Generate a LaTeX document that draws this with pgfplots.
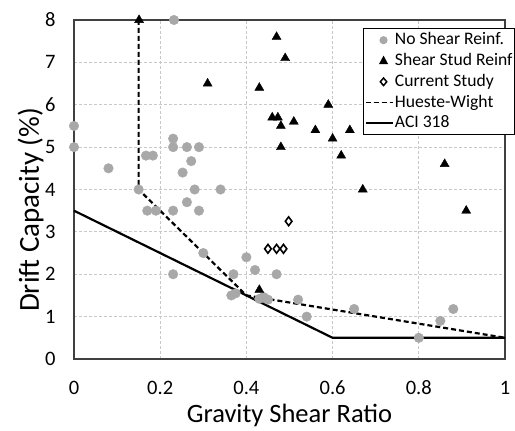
\documentclass[border=0pt]{standalone}
\usepackage{fontspec}
\setmainfont{Carlito}
\usepackage{pgfplots}
\pgfplotsset{compat=1.18}
\definecolor{nsgray}{RGB}{168,168,168}
\definecolor{gridgray}{RGB}{200,200,200}
\definecolor{framegray}{RGB}{64,64,64}

\begin{document}
\begin{tikzpicture}
\begin{axis}[
  name=main,
  width=431pt, height=339pt, scale only axis,
  xmin=0, xmax=1, ymin=0, ymax=8,
  xtick={0,0.2,0.4,0.6,0.8,1},
  xticklabels={0,0.2,0.4,0.6,0.8,1},
  ytick={0,1,2,3,4,5,6,7,8},
  grid=major,
  major grid style={gridgray, dash pattern=on 3pt off 2pt, line width=0.9pt},
  axis line style={framegray, line width=1.6pt},
  tick style={draw=none},
  /pgf/number format/assume math mode=true,
  tick label style={font=\fontsize{20.5}{21}\selectfont},
  xticklabel style={anchor=base, yshift=-36pt},
  yticklabel style={anchor=east, xshift=-15pt},
  xlabel={Gravity Shear Ratio},
  ylabel={Drift Capacity (\%)},
  every axis x label/.style={at={(rel axis cs:0.5,0)}, anchor=base, yshift=-64pt,
    font=\fontsize{26.5}{27}\selectfont},
  every axis y label/.style={at={(rel axis cs:-0.0626,0.44)}, rotate=90, anchor=south,
    font=\fontsize{29}{29}\selectfont},
  clip=false,
  legend cell align=left,
  legend style={at={(rel axis cs:0.6705,0.976)}, anchor=north west,
    draw=black, line width=1.3pt, fill=white,
    inner xsep=1pt, inner ysep=1pt, row sep=0pt,
    font=\fontsize{17.6}{17.6}\selectfont,
    nodes={inner xsep=1.5pt, inner ysep=1.4pt, text height=13.5pt, text depth=4.5pt}},
]
\addplot[only marks, mark=*, mark size=4.8pt, color=nsgray, mark options={draw=nsgray, fill=nsgray},
  legend image code/.code={\path (0pt,0pt) (27pt,0pt); \fill[nsgray] (18pt,0pt) circle (3.4pt);}]
  coordinates {
  (0,5.5) (0,5.0) (0.08,4.5) (0.232,8.0) (0.15,4.0) (0.167,4.8) (0.183,4.8)
  (0.23,5.2) (0.23,5.0) (0.262,5.0) (0.29,5.0) (0.272,4.67) (0.252,4.4)
  (0.28,4.0) (0.34,4.0) (0.17,3.5) (0.19,3.5) (0.23,3.5) (0.262,3.7) (0.29,3.5)
  (0.30,2.5) (0.23,2.0) (0.37,2.0) (0.40,2.4) (0.42,2.1) (0.47,2.0)
  (0.365,1.5) (0.375,1.55) (0.43,1.42) (0.45,1.4) (0.44,1.46) (0.52,1.4)
  (0.54,1.0) (0.65,1.18) (0.80,0.5) (0.85,0.9) (0.88,1.18)
  };
\addlegendentry{No Shear Reinf.}
\addplot[only marks, mark=triangle*, mark size=5.2pt, color=black,
  legend image code/.code={\path (0pt,0pt) (27pt,0pt); \fill[black] (18pt,4pt) -- (14.5pt,-2.5pt) -- (21.5pt,-2.5pt) -- cycle;}]
  coordinates {
  (0.151,8.0) (0.47,7.6) (0.49,7.1) (0.31,6.5) (0.43,6.4) (0.59,6.0)
  (0.46,5.7) (0.473,5.7) (0.51,5.6) (0.48,5.5) (0.56,5.4) (0.60,5.2)
  (0.64,5.4) (0.48,5.0) (0.62,4.8) (0.86,4.6) (0.67,4.0) (0.91,3.5) (0.43,1.63)
  };
\addlegendentry{Shear Stud Reinf}
\addplot[only marks, mark=diamond, mark size=4.4pt, color=black, mark options={line width=1.6pt, fill=white},
  legend image code/.code={\path (0pt,0pt) (27pt,0pt); \draw[black, line width=1.5pt, fill=white] (18pt,3.8pt) -- (14.8pt,0pt) -- (18pt,-3.8pt) -- (21.2pt,0pt) -- cycle;}]
  coordinates {(0.45,2.6) (0.47,2.6) (0.486,2.6) (0.498,3.25)};
\addlegendentry{Current Study}
\addplot[black, line width=2.2pt, dash pattern=on 5pt off 3pt, mark=none,
  legend image code/.code={\draw[black, line width=1.8pt, dash pattern=on 5pt off 3pt] (0pt,0pt) -- (27pt,0pt);}]
  coordinates {(0.15,8) (0.15,4) (0.4,1.5) (1,0.5)};
\addlegendentry{Hueste-Wight}
\addplot[black, line width=2.2pt, mark=none,
  legend image code/.code={\draw[black, line width=1.8pt] (0pt,0pt) -- (27pt,0pt);}]
  coordinates {(0,3.5) (0.6,0.5) (1,0.5)};
\addlegendentry{ACI 318}
\end{axis}
\pgfresetboundingbox
\path ([xshift=-74pt,yshift=-72pt]main.south west) rectangle ([xshift=10pt,yshift=20pt]main.north east);
\end{tikzpicture}
\end{document}
